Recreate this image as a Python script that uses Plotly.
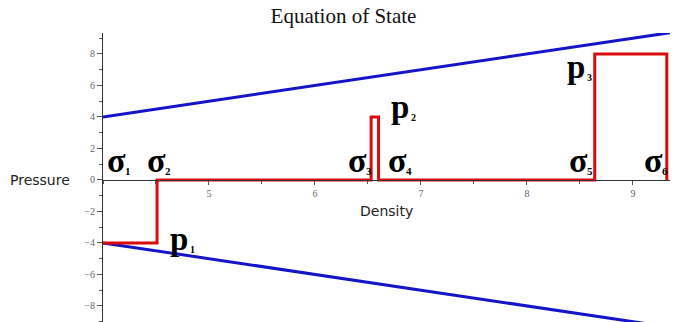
import plotly.graph_objects as go

# state curve (red) and bounding lines (blue)
density_state = [4.0, 4.51, 4.51, 6.53, 6.53, 6.60, 6.60, 8.64, 8.64, 9.32, 9.32]
pressure_state = [-4, -4, 0, 0, 4, 4, 0, 0, 8, 8, 0]

density_bound = [4.0, 9.35]
pressure_upper = [4.0, 9.35]
pressure_lower = [-4.0, -9.35]

sigma_names = ["1", "2", "3", "4", "5", "6"]
sigma_x = [4.02, 4.40, 6.29, 6.67, 8.38, 9.09]

p_names = ["1", "2", "3"]
p_x = [4.61, 6.70, 8.36]
p_y = [-3.75, 4.6, 7.15]

x_range = [4.0, 9.35]
y_range = [-9.02, 9.33]
x_ticks = [5, 6, 7, 8, 9]
y_ticks = [-8, -6, -4, -2, 0, 2, 4, 6, 8]

red = "#dd0a0a"
blue = "#1414c8"
serif = "Liberation Serif, Times New Roman, serif"

fig = go.Figure()
fig.add_trace(go.Scatter(x=density_bound, y=pressure_upper, mode="lines",
                         line=dict(color=blue, width=3)))
fig.add_trace(go.Scatter(x=density_bound, y=pressure_lower, mode="lines",
                         line=dict(color=blue, width=3)))
fig.add_trace(go.Scatter(x=density_state, y=pressure_state, mode="lines",
                         line=dict(color=red, width=3)))

annotations = []
for name, x in zip(sigma_names, sigma_x):
    # big sigma, then its small subscript just to the right
    annotations.append(dict(
        x=x, y=0, xref="x", yref="y", xanchor="left", yanchor="bottom",
        showarrow=False, text="<b>σ</b>", yshift=-1,
        font=dict(family=serif, size=34, color="black")))
    annotations.append(dict(
        x=x, y=0, xref="x", yref="y", xanchor="left", yanchor="bottom",
        showarrow=False, text="<b>" + name + "</b>", xshift=18, yshift=1,
        font=dict(family=serif, size=11, color="black")))
for name, x, y in zip(p_names, p_x, p_y):
    annotations.append(dict(
        x=x, y=y, xref="x", yref="y", xanchor="left", yanchor="middle",
        showarrow=False, text="<b>p</b>",
        font=dict(family=serif, size=33, color="black")))
    annotations.append(dict(
        x=x, y=y, xref="x", yref="y", xanchor="left", yanchor="middle",
        showarrow=False, text="<b>" + name + "</b>", xshift=20, yshift=-10,
        font=dict(family=serif, size=10, color="black")))

annotations.append(dict(x=-0.055, y=0, xref="paper", yref="y", xanchor="right",
                        yanchor="middle", showarrow=False, text="Pressure",
                        font=dict(family="DejaVu Sans", size=14, color="#222")))
annotations.append(dict(x=0.5, y=-1.95, xref="paper", yref="y", xanchor="center",
                        yanchor="middle", showarrow=False, text="Density",
                        font=dict(family="DejaVu Sans", size=14, color="#222")))

zero_pos = (0 - y_range[0]) / (y_range[1] - y_range[0])

# the page body adds an 8px margin, so the figure is sized to fit inside it
fig.update_layout(
    width=671, height=314,
    margin=dict(l=95, r=9, t=25, b=0),
    paper_bgcolor="white", plot_bgcolor="white",
    showlegend=False,
    title=dict(text="Equation of State", x=0.5, xanchor="center", y=1.0, yanchor="top",
               font=dict(family=serif, size=21, color="#111")),
    annotations=annotations,
    xaxis=dict(range=x_range, anchor="free", position=zero_pos, automargin=False,
               showgrid=False, zeroline=False, showline=True, linecolor="#333", linewidth=1,
               tickvals=x_ticks, ticks="outside", ticklen=4, tickcolor="#555",
               tickfont=dict(family=serif, size=10, color="#666"),
               minor=dict(dtick=0.5, tick0=4, ticks="outside", ticklen=3, tickcolor="#555")),
    yaxis=dict(range=y_range, automargin=False, showgrid=False, zeroline=False, showline=True,
               linecolor="#333", linewidth=1,
               tickvals=y_ticks, ticks="outside", ticklen=5, tickcolor="#555",
               tickfont=dict(family=serif, size=10, color="#666"),
               minor=dict(dtick=1, tick0=0, ticks="outside", ticklen=3, tickcolor="#555")),
)

fig.write_html("out.html")
